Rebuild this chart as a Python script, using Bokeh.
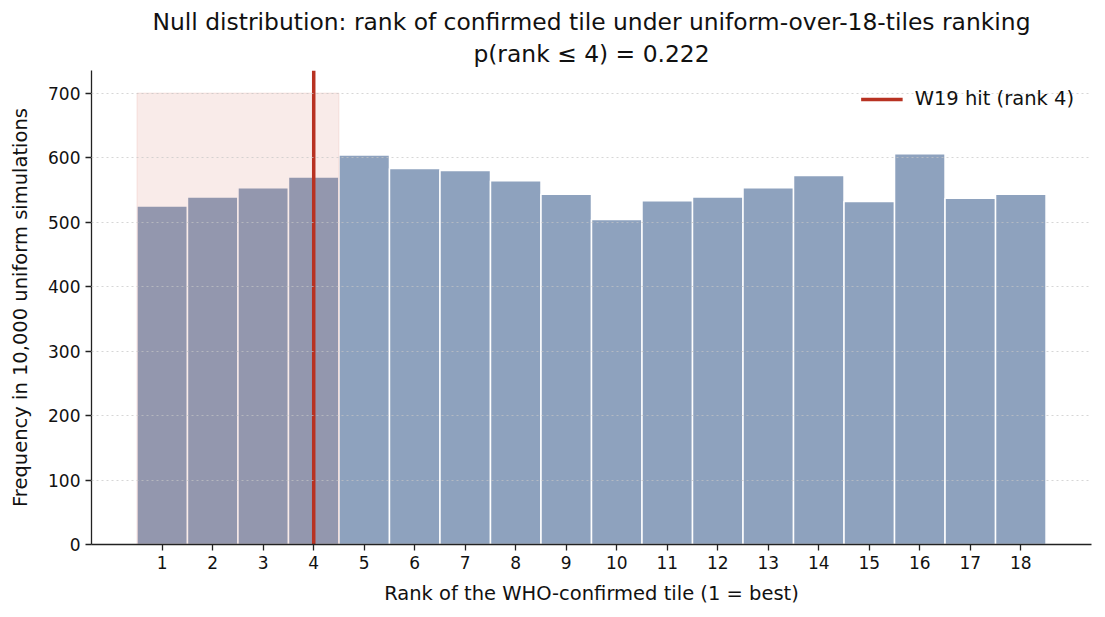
from bokeh.plotting import figure
from bokeh.models import Title, Range1d, FixedTicker, Legend, LegendItem
from bokeh.embed import file_html
from bokeh.resources import INLINE

ranks = list(range(1, 19))
counts = [525, 539, 553, 570, 604, 583, 580, 564, 543,
          504, 533, 539, 553, 572, 532, 606, 537, 543]
hit_rank = 4
top_k = 4
shade_top = 700
y_ticks = [0, 100, 200, 300, 400, 500, 600, 700]
title_line1 = "Null distribution: rank of confirmed tile under uniform-over-18-tiles ranking"
title_line2 = "p(rank \u2264 4) = 0.222"
x_label = "Rank of the WHO-confirmed tile (1 = best)"
y_label = "Frequency in 10,000 uniform simulations"
legend_label = "W19 hit (rank 4)"

FONT = "DejaVu Sans"
y_max = shade_top * 1.05

p = figure(output_backend="svg", toolbar_location=None,
           frame_width=1000, frame_height=474,
           min_border_left=91, min_border_right=6,
           min_border_top=70, min_border_bottom=64,
           x_range=Range1d(-0.4, 19.4), y_range=Range1d(0, y_max),
           title=title_line1)
p.outline_line_color = None
p.background_fill_color = "white"
p.border_fill_color = "white"

p.title.text_font = FONT
p.title.text_font_size = "23.4px"
p.title.text_font_style = "normal"
p.title.align = "center"
p.title.text_color = "#111111"
p.title.standoff = 0
t2 = Title(text=title_line2, align="center", text_font=FONT,
           text_font_size="23.4px", text_font_style="normal", text_color="#111111",
           standoff=5)
p.add_layout(t2, "above")

# bars
p.vbar(x=ranks, top=counts, width=1.0, bottom=0,
       fill_color="#8ea2be", line_color="white", line_width=1.5)

# shaded top-k region
p.quad(left=[0.5], right=[top_k + 0.5], bottom=[0], top=[shade_top],
       fill_color="#c0392b", fill_alpha=0.1,
       line_color="#c0392b", line_alpha=0.1, line_width=1)

# hit line
seg = p.segment(x0=[hit_rank], x1=[hit_rank], y0=[0], y1=[y_max],
                line_color="#b83222", line_width=3.5)

legend = Legend(items=[LegendItem(label=legend_label, renderers=[seg])],
                location="top_right", border_line_color=None,
                background_fill_alpha=0, label_text_font=FONT,
                label_text_font_size="19.5px", label_text_color="#111111",
                glyph_width=42, label_standoff=12, margin=17, padding=8)
p.add_layout(legend)

# axes
p.xaxis.ticker = FixedTicker(ticks=ranks)
p.yaxis.ticker = FixedTicker(ticks=y_ticks)
for ax in (p.xaxis[0], p.yaxis[0]):
    ax.major_label_text_font = FONT
    ax.major_label_text_font_size = "17px"
    ax.major_label_text_color = "#111111"
    ax.axis_label_text_font = FONT
    ax.axis_label_text_font_size = "19.5px"
    ax.axis_label_text_font_style = "normal"
    ax.axis_label_text_color = "#111111"
    ax.axis_line_color = "#222222"
    ax.axis_line_width = 1.3
    ax.major_tick_line_color = "#222222"
    ax.major_tick_line_width = 1.3
    ax.major_tick_out = 6
    ax.major_tick_in = 0
    ax.minor_tick_line_color = None
p.xaxis.axis_label = x_label
p.yaxis.axis_label = y_label
p.xaxis.axis_label_standoff = 10
p.yaxis.axis_label_standoff = 13

p.xgrid.grid_line_color = None
p.ygrid.grid_line_color = "#c4c4c4"
p.ygrid.grid_line_alpha = 0.7
p.ygrid.grid_line_dash = "2 3"
p.ygrid.level = "overlay"

open("out.html", "w").write(file_html(p, INLINE))
